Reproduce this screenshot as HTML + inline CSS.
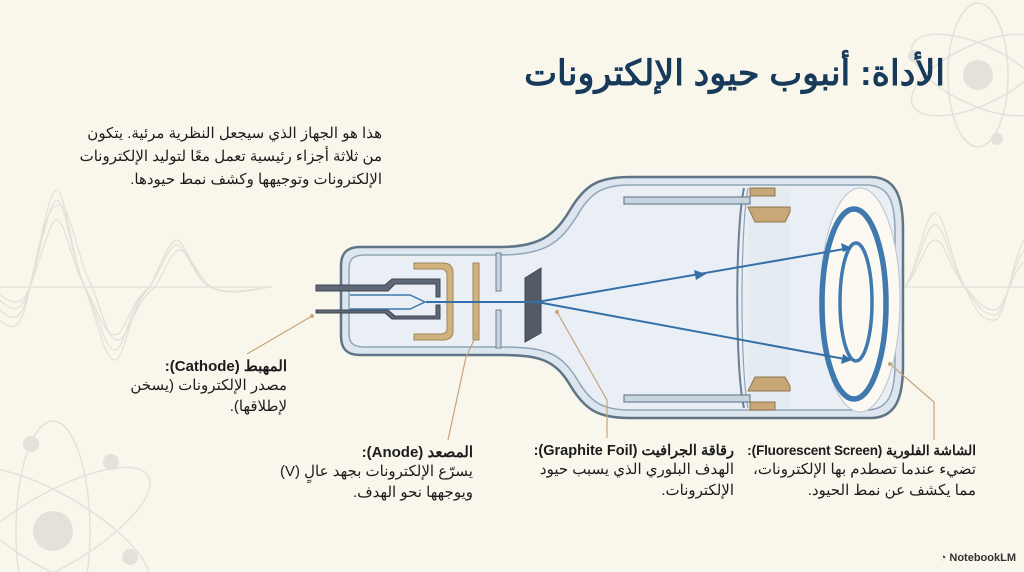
<!DOCTYPE html>
<html style="width:1024px;height:572px;overflow:hidden;"><head><meta charset="utf-8">
<style>
html,body{margin:0;padding:0;}
body{width:1024px;height:572px;background:#f9f6ec;position:relative;overflow:hidden;font-family:"Liberation Sans","Noto Sans CJK SC",sans-serif;color:#1c1c1c;}
.t{position:absolute;direction:rtl;text-align:right;white-space:nowrap;}
h1{position:absolute;margin:0;right:79px;top:54px;font-size:35px;font-weight:bold;color:#173a5a;direction:rtl;white-space:nowrap;}
.p{font-size:15px;line-height:23px;}
.b{font-weight:bold;font-size:15px;}
</style></head><body>
<svg width="1024" height="572" style="position:absolute;left:0;top:0" xmlns="http://www.w3.org/2000/svg">
<g fill="none" stroke="#e3e0d8" stroke-width="1.2">
<line x1="0" y1="287" x2="272" y2="287"/>
<path d="M0 300 C20 320 25 300 30 287 C45 230 50 200 57 200 C65 200 72 260 85 287 C100 320 105 350 115 350 C125 350 130 300 150 287 C165 260 170 245 177 245 C185 245 195 280 210 287 C230 295 250 290 270 287"/>
<path d="M0 310 C20 330 25 305 30 287 C45 220 50 190 57 190 C65 190 72 260 85 287 C100 330 105 360 115 360 C125 360 130 305 150 287 C165 255 170 240 177 240 C185 240 195 280 210 287 C230 297 250 290 270 287"/>
<path d="M0 320 C20 340 25 310 30 287 C45 215 50 205 60 205 C70 205 78 260 92 287 C105 320 108 340 118 340 C128 340 135 300 155 287 C168 265 172 250 180 250 C190 250 198 280 212 287"/>
<path d="M0 295 C20 310 25 298 30 287 C45 245 50 220 57 220 C65 220 72 265 85 287 C100 315 105 335 115 335 C125 335 130 300 150 287"/>
<line x1="905" y1="287" x2="1024" y2="287"/>
<path d="M905 287 C920 260 925 213 935 213 C945 213 950 260 965 287 C980 320 985 320 995 320 C1005 320 1012 260 1024 240"/>
<path d="M905 287 C920 265 925 225 935 225 C945 225 950 265 965 287 C980 310 985 315 995 315 C1005 315 1012 265 1024 250"/>
<path d="M905 287 C920 270 925 240 935 240 C945 240 950 270 965 287 C980 305 985 310 995 310 C1005 310 1012 270 1024 262"/>
</g>
<g fill="none" stroke="#e4e1da" stroke-width="1.5">
<ellipse cx="978" cy="75" rx="30" ry="72"/>
<ellipse cx="978" cy="75" rx="30" ry="72" transform="rotate(65 978 75)"/>
<ellipse cx="978" cy="75" rx="30" ry="72" transform="rotate(-65 978 75)"/>
<ellipse cx="53" cy="531" rx="37" ry="110"/>
<ellipse cx="53" cy="531" rx="37" ry="110" transform="rotate(60 53 531)"/>
<ellipse cx="53" cy="531" rx="37" ry="110" transform="rotate(-60 53 531)"/>
</g>
<g fill="#e4e1da"><circle cx="978" cy="75" r="15"/><circle cx="914" cy="56" r="6"/><circle cx="997" cy="139" r="6"/><circle cx="53" cy="531" r="20"/><circle cx="31" cy="444" r="8"/><circle cx="111" cy="462" r="8"/><circle cx="130" cy="557" r="8"/></g>

<path d="M360 247 L500 247 C540 247 555 235 570 210 C585 185 598 177 630 177 L870 177 C895 177 903 195 903 230 L903 365 C903 400 895 418 870 418 L630 418 C598 418 585 410 570 385 C555 360 540 355 500 355 L360 355 C347 355 341 349 341 336 L341 266 C341 253 347 247 360 247 Z" fill="#dde6ee" stroke="#5f7486" stroke-width="2.5"/>
<path d="M365 255 L500 255 C545 255 560 243 577 216 C590 193 602 185 630 185 L866 185 C888 185 895 200 895 232 L895 363 C895 395 888 410 866 410 L630 410 C602 410 590 402 577 379 C560 352 545 347 500 347 L365 347 C353 347 349 343 349 333 L349 269 C349 259 353 255 365 255 Z" fill="#e9eff4" stroke="#8fa5b6" stroke-width="1.5"/>
<path d="M744 188 C735 230 735 370 744 408" fill="none" stroke="#6d8092" stroke-width="2"/>
<path d="M748 188 L790 188 L790 408 L748 408" fill="#e4ebf1" stroke="none"/>
<path d="M748 188 C740 230 740 370 748 408" fill="none" stroke="#8fa5b6" stroke-width="1.2"/>
<ellipse cx="860" cy="300" rx="40" ry="112" fill="#fbf9f2" stroke="#b8c4cd" stroke-width="1"/>
<ellipse cx="854" cy="304" rx="32" ry="95" fill="none" stroke="#3f79ad" stroke-width="5.5"/>
<ellipse cx="856" cy="302" rx="16" ry="59" fill="none" stroke="#3f79ad" stroke-width="3.5"/>
<rect x="624" y="197" width="126" height="7" fill="#c9d5de" stroke="#6d8092" stroke-width="1.2"/>
<rect x="624" y="395" width="126" height="7" fill="#c9d5de" stroke="#6d8092" stroke-width="1.2"/>
<path d="M750 188 L775 188 L775 196 L750 196 Z M748 207 L790 207 L790 212 L785 222 L755 222 Z" fill="#c9a877" stroke="#8f7450" stroke-width="1"/>
<path d="M750 410 L775 410 L775 402 L750 402 Z M748 391 L790 391 L790 386 L785 377 L755 377 Z" fill="#c9a877" stroke="#8f7450" stroke-width="1"/>
<path d="M316 285 L385 285 L392 279 L440 279 L440 297 L436 297 L436 284 L395 284 L388 291 L316 291 Z" fill="#5f6877" stroke="#3e4652" stroke-width="1"/>
<path d="M316 313 L385 313 L392 319 L440 319 L440 305 L436 305 L436 316 L395 316 L388 310 L316 310 Z" fill="#5f6877" stroke="#3e4652" stroke-width="1"/>
<path d="M350 295 L410 295 L425 302 L410 309 L350 309" fill="none" stroke="#3f79ad" stroke-width="1.5"/>
<path d="M414 263 L443 263 Q453 263 453 273 L453 331 Q453 340 443 340 L414 340 L414 334 L441 334 Q447 334 447 328 L447 276 Q447 269 441 269 L414 269 Z" fill="#d1b27f" stroke="#a08658" stroke-width="1"/>
<rect x="473" y="263" width="6" height="77" fill="#d1b27f" stroke="#a08658" stroke-width="1"/>
<rect x="496" y="253" width="5" height="38" fill="#c9d5de" stroke="#6d8092" stroke-width="1"/>
<rect x="496" y="310" width="5" height="38" fill="#c9d5de" stroke="#6d8092" stroke-width="1"/>
<path d="M525 278 L541 268 L541 333 L525 342 Z" fill="#535b66" stroke="#3e4652"/>
<g stroke="#3470a8" stroke-width="2" fill="#3470a8">
<line x1="426" y1="302" x2="537" y2="302"/>
<line x1="537" y1="302" x2="850" y2="248"/>
<line x1="537" y1="302" x2="850" y2="360"/>
<path d="M706 274 L694 270 L696 280 Z" stroke="none"/>
<path d="M852 248 L841 243 L843 252 Z" stroke="none"/>
<path d="M852 360 L843 354 L841 364 Z" stroke="none"/>
</g>
<g stroke="#c6a57a" stroke-width="1.2" fill="none">
<line x1="312" y1="316" x2="247" y2="354"/>
<polyline points="477,334 466,357 448,440"/>
<polyline points="557,312 607,400 607,438"/>
<polyline points="890,364 934,402 934,440"/>
</g>
<g fill="#c6a57a"><circle cx="312" cy="316" r="2"/><circle cx="477" cy="334" r="2"/><circle cx="557" cy="312" r="2"/><circle cx="890" cy="364" r="2"/></g>
</svg>

<h1>الأداة: أنبوب حيود الإلكترونات</h1>
<div class="t p" style="right:642px;top:122px;">هذا هو الجهاز الذي سيجعل النظرية مرئية. يتكون<br>من ثلاثة أجزاء رئيسية تعمل معًا لتوليد الإلكترونات<br>الإلكترونات وتوجيهها وكشف نمط حيودها.</div>

<div class="t" style="right:737px;top:357px;"><div class="b">المهبط (Cathode):</div><div class="p" style="line-height:21px">مصدر الإلكترونات (يسخن<br>لإطلاقها).</div></div>
<div class="t" style="right:551px;top:443px;"><div class="b">المصعد (Anode):</div><div class="p" style="line-height:21px">يسرّع الإلكترونات بجهد عالٍ (V)<br>ويوجهها نحو الهدف.</div></div>
<div class="t" style="right:290px;top:443px;"><div class="b" style="font-size:14.5px">رقاقة الجرافيت (Graphite Foil):</div><div class="p" style="line-height:21px">الهدف البلوري الذي يسبب حيود<br>الإلكترونات.</div></div>
<div class="t" style="right:48px;top:443px;"><div class="b" style="font-size:13.5px;letter-spacing:-0.2px">الشاشة الفلورية (Fluorescent Screen):</div><div class="p" style="line-height:21px">تضيء عندما تصطدم بها الإلكترونات،<br>مما يكشف عن نمط الحيود.</div></div>
<div style="position:absolute;right:8px;top:552px;font-size:11px;line-height:13px;color:#333;font-weight:bold;">◔ NotebookLM</div>
</body></html>
